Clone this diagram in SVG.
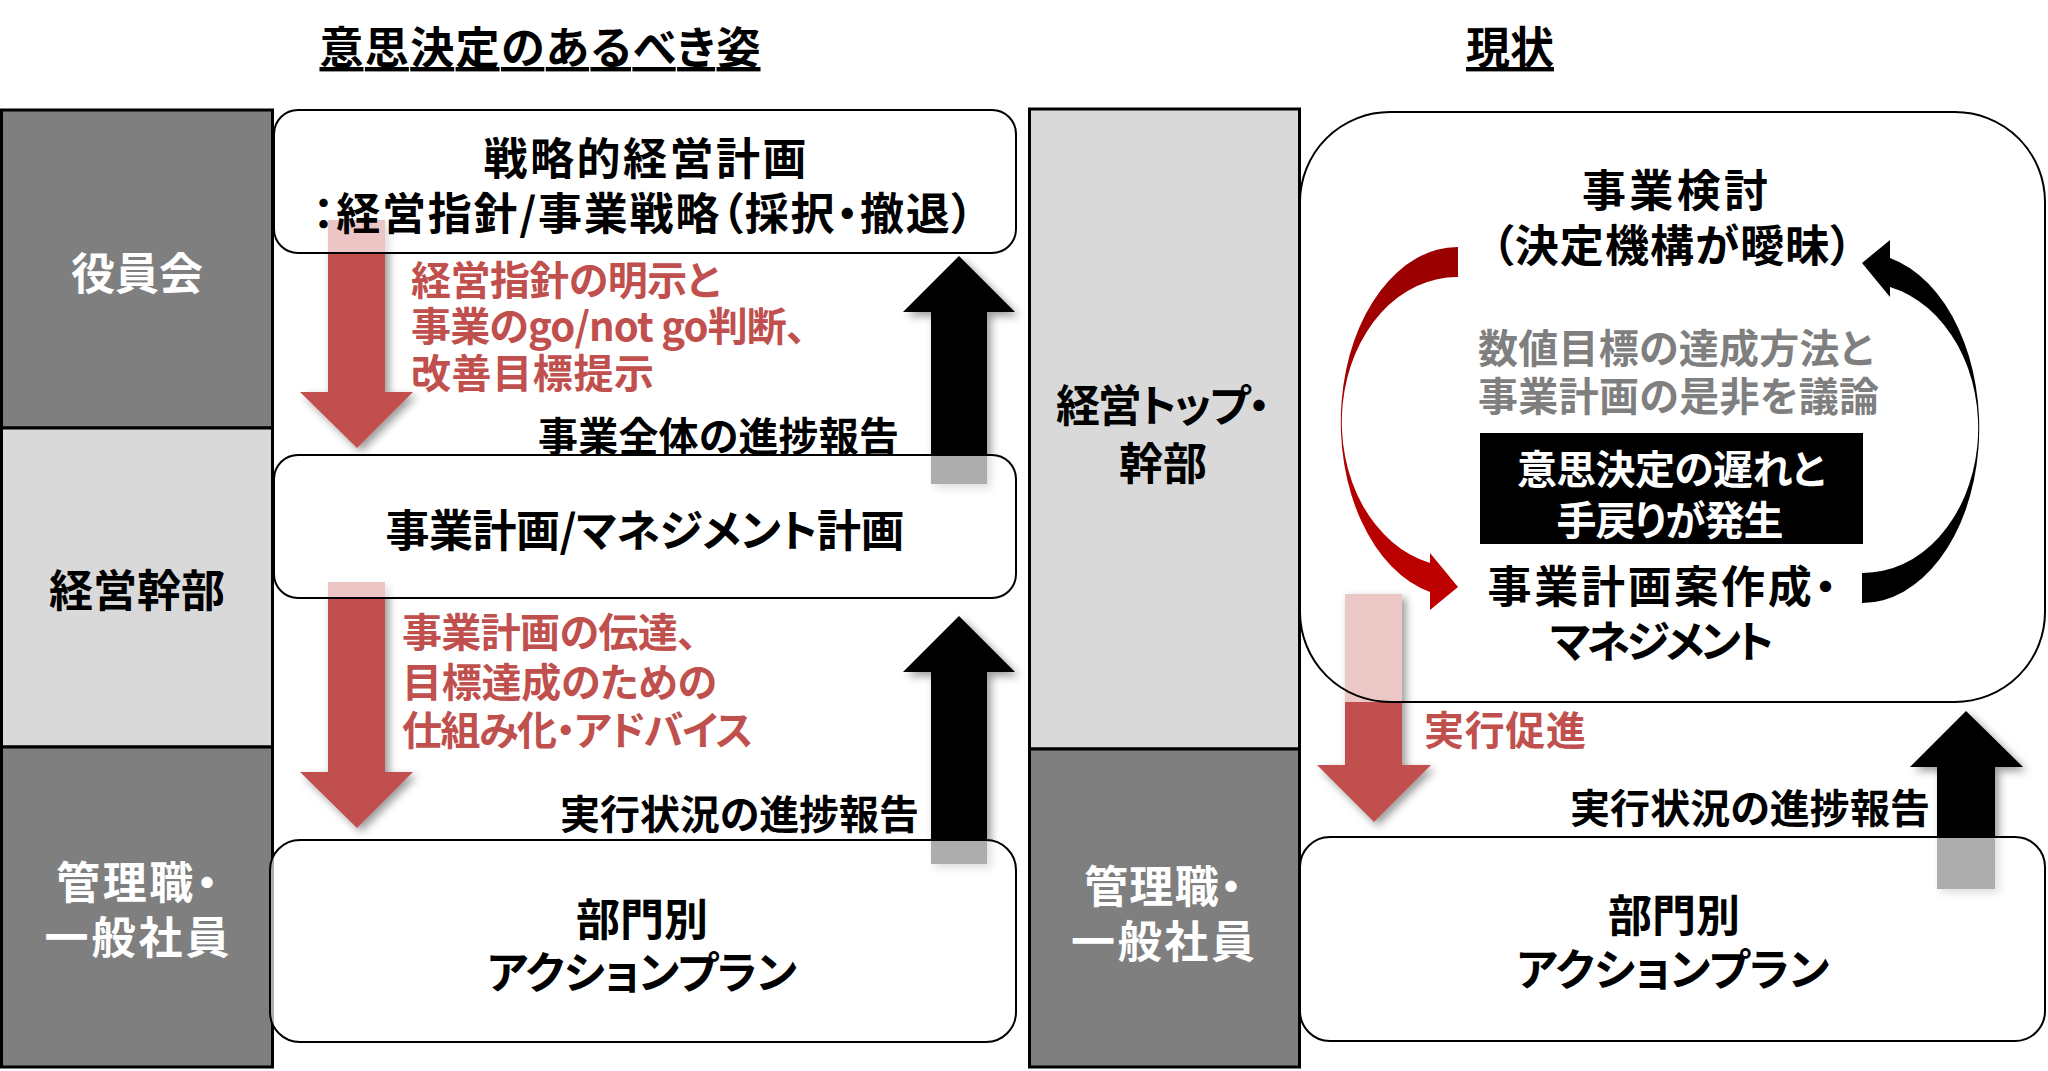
<svg xmlns="http://www.w3.org/2000/svg" width="2048" height="1071" viewBox="0 0 2048 1071">
<defs>
<style>
text { font-family: "Noto Sans CJK JP", "Noto Sans", sans-serif; font-weight: 700; font-feature-settings: "palt"; }
.f44 { font-size: 44px; }
.f40 { font-size: 40px; }
.mid { text-anchor: middle; }
.k { fill: #000; }
.w { fill: #fff; }
.r { fill: #c0504d; }
.g { fill: #7f7f7f; }
.dark { fill: #7f7f7f; stroke: #000; stroke-width: 3; }
.light { fill: #d9d9d9; stroke: #000; stroke-width: 3; }
.box { fill: #fff; fill-opacity: 0.68; stroke: #000; stroke-width: 2; }
.bigbox { fill: none; stroke: #000; stroke-width: 2; }
.red { fill: #c0504d; }
.blk { fill: #000; }
</style>
<filter id="sh" x="-30%" y="-10%" width="160%" height="130%">
<feDropShadow dx="4" dy="4" stdDeviation="4" flood-color="#000" flood-opacity="0.4"/>
</filter>
<linearGradient id="redCurve" gradientUnits="userSpaceOnUse" x1="0" y1="247" x2="0" y2="610">
<stop offset="0" stop-color="#990000"/>
<stop offset="1" stop-color="#c00000"/>
</linearGradient>
<linearGradient id="redFade" gradientUnits="userSpaceOnUse" x1="0" y1="594" x2="0" y2="822">
<stop offset="0" stop-color="#ebc7c6"/>
<stop offset="0.4737" stop-color="#ebc7c6"/>
<stop offset="0.4737" stop-color="#c0504d"/>
<stop offset="1" stop-color="#c0504d"/>
</linearGradient>
<path id="curveArrow" d="M1458 247A117 175 0 0 0 1430 592L1430 610L1458 587L1430 553L1430 563A115 145 0 0 1 1458 277Z"/>
</defs>
<rect width="2048" height="1071" fill="#fff"/>

<text class="f44 k mid" x="540" y="64" textLength="441" text-decoration="underline">意思決定のあるべき姿</text>
<text class="f44 k mid" x="1510" y="64" text-decoration="underline">現状</text>

<g id="connectors">
<path class="red" filter="url(#sh)" d="M328 220H385V392H413L357 448L300 392H328Z"/>
<path class="red" filter="url(#sh)" d="M328 582H385V772H413L357 828L300 772H328Z"/>
<path class="blk" filter="url(#sh)" d="M931 484V312H903L959 256L1015 312H987V484Z"/>
<path class="blk" filter="url(#sh)" d="M931 864V672H903L959 616L1015 672H987V864Z"/>
<path fill="url(#redFade)" filter="url(#sh)" d="M1345 594H1402V765H1431L1374 822L1317 765H1345Z"/>
<path class="blk" filter="url(#sh)" d="M1937 889V767H1910L1966 711L2023 767H1995V889Z"/>
<use href="#curveArrow" fill="url(#redCurve)"/>
<use href="#curveArrow" class="blk" transform="rotate(180 1660 425)"/>
<text class="f40 r" x="411" y="295" textLength="309">経営指針の明示と</text>
<text class="f40 r" x="411" y="341" textLength="395">事業のgo/not go判断、</text>
<text class="f40 r" x="411" y="388" textLength="243">改善目標提示</text>
<text class="f40 r" x="402" y="647" textLength="295">事業計画の伝達、</text>
<text class="f40 r" x="402" y="697" textLength="315">目標達成のための</text>
<text class="f40 r" x="402" y="745" textLength="351">仕組み化・アドバイス</text>
<text class="f40 k" x="538" y="451" textLength="361">事業全体の進捗報告</text>
<text class="f40 k" x="560" y="829" textLength="359">実行状況の進捗報告</text>
<text class="f40 r" x="1424" y="745" textLength="162">実行促進</text>
<text class="f40 k" x="1570" y="823" textLength="360">実行状況の進捗報告</text>
</g>

<g id="yakuinkai">
<rect class="dark" x="1.5" y="110" width="271" height="318"/>
<text class="f44 w mid" x="137" y="290">役員会</text>
</g>
<g id="keiei-kanbu">
<rect class="light" x="1.5" y="428" width="271" height="319"/>
<text class="f44 k mid" x="137" y="607">経営幹部</text>
</g>
<g id="kanrishoku-left">
<rect class="dark" x="1.5" y="747" width="271" height="320"/>
<text class="f44 w mid" x="137" y="899" textLength="162">管理職・</text>
<text class="f44 w mid" x="137" y="954" textLength="185">一般社員</text>
</g>

<g id="senryaku">
<rect class="box" x="274" y="110" width="742" height="143" rx="24"/>
<text class="f44 k mid" x="645" y="175" textLength="323">戦略的経営計画</text>
<text class="f44 k mid" x="643" y="230" textLength="661">：経営指針/事業戦略（採択・撤退）</text>
</g>
<g id="jigyo-keikaku">
<rect class="box" x="274" y="455" width="742" height="143" rx="24"/>
<text class="f44 k mid" x="645" y="547" textLength="519">事業計画/マネジメント計画</text>
</g>
<g id="action-left">
<rect class="box" x="270" y="840" width="746" height="202" rx="30"/>
<text class="f44 k mid" x="642" y="936">部門別</text>
<text class="f44 k mid" x="642" y="989" textLength="310">アクションプラン</text>
</g>

<g id="keiei-top">
<rect class="light" x="1029.5" y="109" width="270" height="640"/>
<text class="f44 k mid" x="1163" y="422" textLength="214">経営トップ・</text>
<text class="f44 k mid" x="1163" y="480">幹部</text>
</g>
<g id="kanrishoku-right">
<rect class="dark" x="1029.5" y="749" width="270" height="318"/>
<text class="f44 w mid" x="1163" y="903" textLength="158">管理職・</text>
<text class="f44 w mid" x="1163" y="958" textLength="184">一般社員</text>
</g>

<g id="jigyo-kento">
<rect class="bigbox" x="1300" y="112" width="745" height="590" rx="90"/>
<text class="f44 k mid" x="1675" y="207" textLength="186">事業検討</text>
<text class="f44 k mid" x="1672" y="262" textLength="361">（決定機構が曖昧）</text>
<text class="f40 g" x="1478" y="363" textLength="395">数値目標の達成方法と</text>
<text class="f40 g" x="1478" y="411" textLength="401">事業計画の是非を議論</text>
<text class="f44 k mid" x="1662" y="603" textLength="349">事業計画案作成・</text>
<text class="f44 k mid" x="1662" y="658" textLength="224">マネジメント</text>
</g>
<g id="delay">
<rect x="1480" y="433" width="383" height="111" fill="#000"/>
<text class="f40 w mid" x="1671" y="484" textLength="308">意思決定の遅れと</text>
<text class="f40 w mid" x="1670" y="535" textLength="227">手戻りが発生</text>
</g>

<g id="action-right">
<rect class="box" x="1300" y="837" width="745" height="204" rx="30"/>
<text class="f44 k mid" x="1674" y="932">部門別</text>
<text class="f44 k mid" x="1673" y="986" textLength="313">アクションプラン</text>
</g>
</svg>
